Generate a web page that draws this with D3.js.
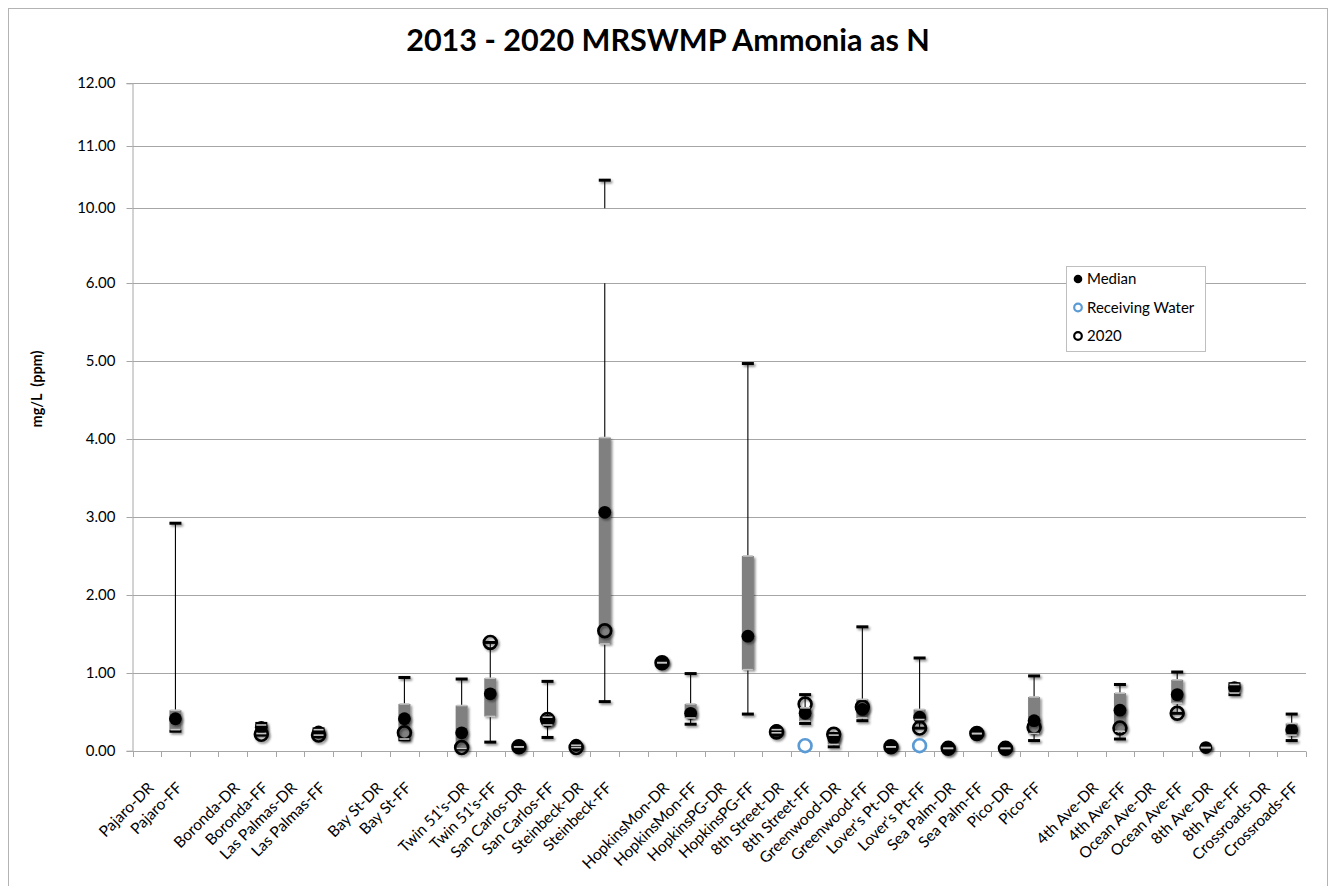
<!DOCTYPE html>
<html><head><meta charset="utf-8">
<script src="https://cdn.jsdelivr.net/npm/d3@7"></script>
<style>
body{margin:0;background:#fff}
svg{display:block}
text{font-family:Lato,'Open Sans',sans-serif;fill:#000}
</style>
</head><body>
<svg id="c" width="1333" height="886"></svg>
<script>
const categories = ["Pajaro-DR","Pajaro-FF","","Boronda-DR","Boronda-FF","Las Palmas-DR","Las Palmas-FF","","Bay St-DR","Bay St-FF","","Twin 51's-DR","Twin 51's-FF","San Carlos-DR","San Carlos-FF","Steinbeck-DR","Steinbeck-FF","","HopkinsMon-DR","HopkinsMon-FF","HopkinsPG-DR","HopkinsPG-FF","8th Street-DR","8th Street-FF","Greenwood-DR","Greenwood-FF","Lover's Pt-DR","Lover's Pt-FF","Sea Palm-DR","Sea Palm-FF","Pico-DR","Pico-FF","","4th Ave-DR","4th Ave-FF","Ocean Ave-DR","Ocean Ave-FF","8th Ave-DR","8th Ave-FF","Crossroads-DR","Crossroads-FF"];
const minV = [null,0.25,null,null,0.20,null,0.18,null,null,0.14,null,0.02,0.11,0.05,0.17,0.04,0.63,null,1.13,0.34,null,0.47,0.22,0.35,0.05,0.385,0.05,0.29,0.03,0.22,0.03,0.13,null,null,0.15,null,0.48,0.04,0.72,null,0.13];
const q1V  = [null,0.27,null,null,0.22,null,0.20,null,null,0.15,null,0.03,0.44,0.05,0.33,0.04,1.37,null,1.13,0.42,null,1.04,0.23,0.38,0.08,0.42,0.05,0.40,0.03,0.22,0.03,0.22,null,null,0.25,null,0.61,0.04,0.74,null,0.20];
const medianV = [null,0.41,null,null,0.30,null,0.24,null,null,0.41,null,0.23,0.73,0.05,0.38,0.07,3.06,null,1.13,0.48,null,1.47,0.26,0.48,0.16,0.53,0.05,0.43,0.03,0.22,0.03,0.385,null,null,0.52,null,0.72,0.04,0.81,null,0.27];
const q3V  = [null,0.52,null,null,0.33,null,0.27,null,null,0.60,null,0.58,0.93,0.05,0.43,0.07,4.02,null,1.13,0.60,null,2.50,0.27,0.55,0.20,0.66,0.05,0.53,0.03,0.22,0.03,0.69,null,null,0.74,null,0.91,0.04,0.85,null,0.35];
const maxV = [null,2.92,null,null,0.35,null,0.28,null,null,0.94,null,0.92,1.39,0.05,0.89,0.08,10.45,null,1.13,0.99,null,4.97,0.28,0.72,0.22,1.59,0.05,1.19,0.03,0.22,0.03,0.96,null,null,0.85,null,1.01,0.04,0.86,null,0.47];
const y2020 = [null,null,null,null,0.21,null,0.20,null,null,0.23,null,0.04,1.39,0.05,0.40,0.04,1.54,null,1.13,null,null,null,0.24,0.60,0.21,0.56,0.05,0.29,0.03,0.22,0.03,0.30,null,null,0.29,null,0.48,null,null,null,null];
const receivingWater = [null,null,null,null,null,null,null,null,null,null,null,null,null,null,null,null,null,null,null,null,null,null,null,0.065,null,null,null,0.065,null,null,null,null,null,null,null,null,null,null,null,null,null];
const yTicks = [0,1,2,3,4,5,6,10,11,12];
const legendLabels = ["Median","Receiving Water","2020"];
const titleText = "2013 - 2020 MRSWMP Ammonia as N";
const yTitle = "mg/L  (ppm)";

const svg = d3.select("#c");
const L = 132.5, R = 1306, T = 83.3, B = 750.7;

const defs = svg.append("defs");
defs.append("filter").attr("id","sh").attr("filterUnits","userSpaceOnUse")
  .attr("x",0).attr("y",0).attr("width",1333).attr("height",886)
  .append("feDropShadow").attr("dx",1.6).attr("dy",1.8).attr("stdDeviation",1.2)
  .attr("flood-color","#000").attr("flood-opacity",0.45);

// chart border
svg.append("rect").attr("x",8.5).attr("y",8.5).attr("width",1319).attr("height",900)
  .attr("fill","#fff").attr("stroke","#b3b3b3").attr("stroke-width",1);

const x = d3.scaleBand().domain(d3.range(categories.length)).range([L,R]);
const bw = x.bandwidth();
const cx = i => x(i) + bw/2;
// broken axis: 0-6 linear, 6-10 compressed, 10-12 linear
const y = d3.scaleLinear().domain([0,6,10,12]).range([B,283.3,208.3,T]);

// gridlines
svg.append("g").selectAll("line").data(yTicks.filter(d=>d>0)).join("line")
  .attr("x1",L).attr("x2",R).attr("y1",d=>Math.round(y(d))+0.5).attr("y2",d=>Math.round(y(d))+0.5)
  .attr("stroke","#a6a6a6").attr("stroke-width",1);

// y axis
const yAxis = svg.append("g").attr("transform",`translate(${L},0)`)
  .call(d3.axisLeft(y).tickValues(yTicks).tickFormat(d3.format(".2f")).tickSize(6).tickPadding(11));
yAxis.select(".domain").attr("stroke","#a6a6a6");
yAxis.selectAll(".tick line").attr("stroke","#a6a6a6");
yAxis.selectAll(".tick text").attr("font-size",15).attr("font-family","Lato,'Open Sans',sans-serif").attr("fill","#000");
yAxis.selectAll(".tick").attr("transform",d=>`translate(0,${Math.round(y(d))+0.5})`);

// x axis line + ticks at band boundaries
svg.append("line").attr("x1",L).attr("x2",R).attr("y1",Math.round(B)+0.5).attr("y2",Math.round(B)+0.5).attr("stroke","#a6a6a6");
const bounds = d3.range(categories.length).map(i=>x(i)).concat([R]);
svg.append("g").selectAll("line").data(bounds).join("line")
  .attr("x1",d=>Math.round(d)+0.5).attr("x2",d=>Math.round(d)+0.5)
  .attr("y1",Math.round(B)+0.5).attr("y2",Math.round(B)+6).attr("stroke","#a6a6a6");

// x labels
svg.append("g").selectAll("text").data(categories).join("text")
  .attr("transform",(d,i)=>`translate(${cx(i)+4},${785}) rotate(-45)`)
  .attr("text-anchor","end").attr("dy","0.35em").attr("font-size",15.5)
  .text(d=>d);

const idx = d3.range(categories.length).filter(i=>medianV[i]!=null);
const g = svg.append("g");
// whiskers (broken between 6 and 10)
idx.forEach(i=>{
  const segs = [];
  const lo = minV[i], hi = maxV[i];
  if (hi > 10) { segs.push([lo, 6]); segs.push([10, hi]); }
  else segs.push([lo, hi]);
  segs.forEach(s=>{
    g.append("line").attr("x1",cx(i)).attr("x2",cx(i)).attr("y1",y(s[0])).attr("y2",y(s[1]))
      .attr("stroke","#000").attr("stroke-width",1.1);
  });
});
// boxes
g.append("g").selectAll("rect").data(idx).join("rect")
  .attr("x",i=>cx(i)-6).attr("width",12)
  .attr("y",i=>y(q3V[i])).attr("height",i=>Math.max(0.01,y(q1V[i])-y(q3V[i])))
  .attr("fill","#808080").attr("filter","url(#sh)");
// caps
g.append("g").selectAll("rect").data(idx.flatMap(i=>[[i,minV[i]],[i,maxV[i]]])).join("rect")
  .attr("x",d=>cx(d[0])-6).attr("width",12).attr("y",d=>y(d[1])-1.5).attr("height",3)
  .attr("fill","#000").attr("filter","url(#sh)");
// median
g.append("g").selectAll("circle").data(idx).join("circle")
  .attr("cx",cx).attr("cy",i=>y(medianV[i])).attr("r",6.4)
  .attr("fill","#000").attr("filter","url(#sh)");
// 2020
g.append("g").selectAll("circle").data(d3.range(categories.length).filter(i=>y2020[i]!=null)).join("circle")
  .attr("cx",cx).attr("cy",i=>y(y2020[i])).attr("r",6.4)
  .attr("fill","none").attr("stroke","#000").attr("stroke-width",2.7).attr("filter","url(#sh)");
// receiving water
g.append("g").selectAll("circle").data(d3.range(categories.length).filter(i=>receivingWater[i]!=null)).join("circle")
  .attr("cx",cx).attr("cy",i=>y(receivingWater[i])).attr("r",6.4)
  .attr("fill","none").attr("stroke","#5b9bd5").attr("stroke-width",2.7);
// light quartile edges
g.append("g").selectAll("line").data(idx.flatMap(i=>[[i,q1V[i]],[i,q3V[i]]])).join("line")
  .attr("x1",d=>cx(d[0])-5).attr("x2",d=>cx(d[0])+5).attr("y1",d=>y(d[1])).attr("y2",d=>y(d[1]))
  .attr("stroke","#c4c4c4").attr("stroke-width",1.6);

// title
const tt = svg.append("text").attr("x",668).attr("y",51).attr("text-anchor","middle")
  .attr("font-weight","bold").attr("font-size",26).text(titleText);
const tw = tt.node().getComputedTextLength();
tt.attr("font-size", 26*524/tw);

// y title
svg.append("text").attr("transform","translate(42,389) rotate(-90)").attr("text-anchor","middle")
  .attr("font-weight","bold").attr("font-size",14.5).attr("xml:space","preserve").style("white-space","pre").text(yTitle);

// legend
const lg = svg.append("g");
lg.append("rect").attr("x",1066.5).attr("y",266.5).attr("width",139).attr("height",85)
  .attr("fill","#fff").attr("stroke","#bfbfbf");
const ly = [279,307.5,336];
lg.append("circle").attr("cx",1078).attr("cy",ly[0]).attr("r",4.3).attr("fill","#000");
lg.append("circle").attr("cx",1078).attr("cy",ly[1]).attr("r",3.8).attr("fill","none").attr("stroke","#5b9bd5").attr("stroke-width",2.2);
lg.append("circle").attr("cx",1078).attr("cy",ly[2]).attr("r",3.8).attr("fill","none").attr("stroke","#000").attr("stroke-width",2.2);
lg.selectAll("text.l").data(legendLabels).join("text").attr("class","l")
  .attr("x",1087).attr("y",(d,i)=>ly[i]).attr("dy","0.35em").attr("font-size",15).text(d=>d);
</script>
</body></html>
